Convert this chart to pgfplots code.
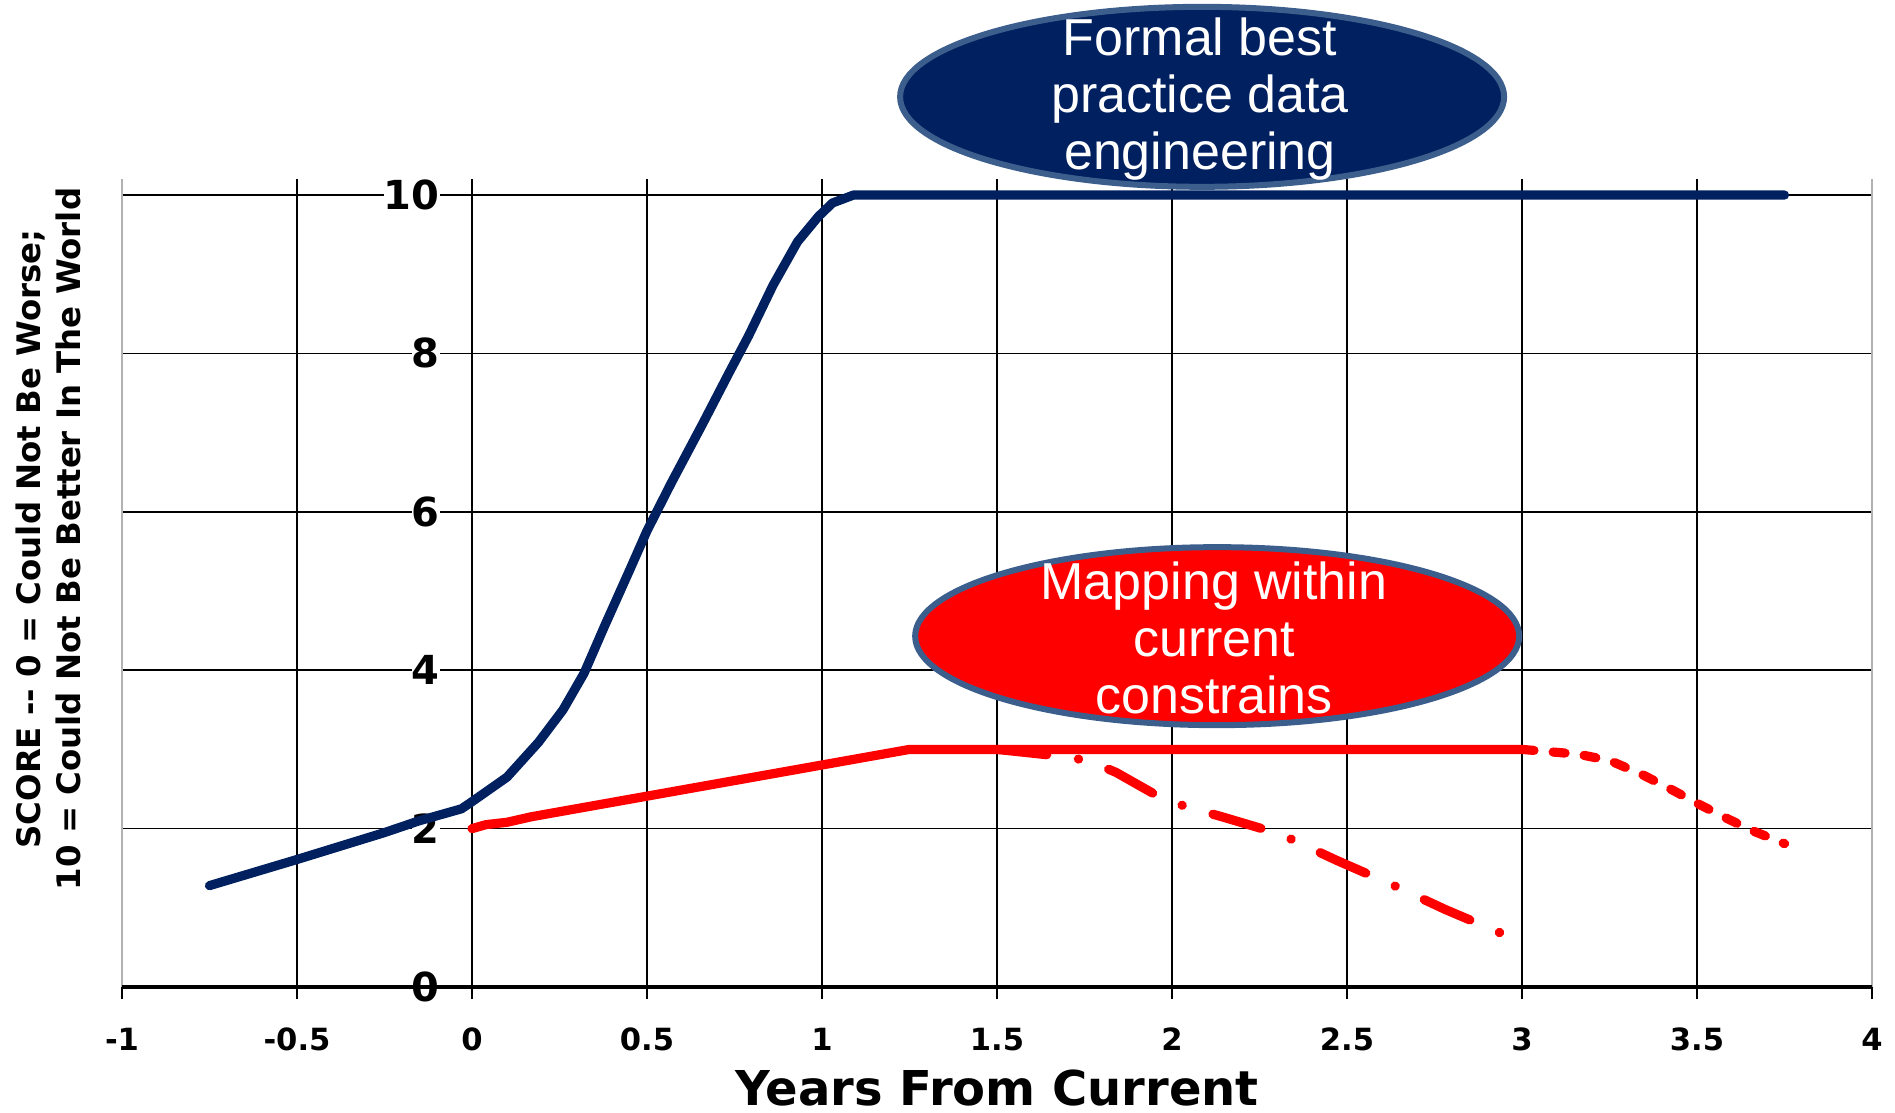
\documentclass[border=0pt]{standalone}
\usepackage{pgfplots}
\pgfplotsset{compat=1.18}
\usepackage{fontspec}
\setmainfont{DejaVu Sans}
\newfontfamily\arialfont{Liberation Sans}
\usetikzlibrary{shapes.geometric}
\definecolor{navy}{RGB}{0,32,96}
\definecolor{steel}{RGB}{60,94,140}
\definecolor{redline}{RGB}{255,0,0}
\begin{document}
\begin{tikzpicture}
\begin{axis}[
  scale only axis, width=875pt, height=403.9pt,
  xmin=-1, xmax=4, ymin=0, ymax=10.2,
  clip=false,
  axis line style={draw=none},
  xtick={-1,-0.5,0,0.5,1,1.5,2,2.5,3,3.5,4},
  xticklabels={-1,-0.5,0,0.5,1,1.5,2,2.5,3,3.5,4},
  ytick={2,4,6,8,10},
  yticklabels={2\hspace{11pt},4\hspace{11pt},6\hspace{11pt},8\hspace{11pt},10\hspace{11pt}},
  extra y ticks={0},
  extra y tick labels={0\hspace{11pt}},
  extra y tick style={y tick label style={fill=none}},
  xtick align=outside, ytick align=inside,
  xtick pos=bottom,
  major tick length=6pt,
  xtick style={black, line width=1pt},
  ytick style={draw=none},
  grid=major,
  major grid style={black, line width=0.8pt},
  x tick label style={font=\bfseries\fontsize{15.3}{18}\selectfont, yshift=-11pt},
  y tick label style={font=\bfseries\fontsize{20}{23}\selectfont, anchor=east, fill=white, inner sep=0pt, xshift=159pt},
  xlabel={Years From Current},
  xlabel style={font=\bfseries\fontsize{24}{28}\selectfont, at={(axis description cs:0.5,0)}, anchor=base, yshift=-59pt},
  ylabel={SCORE -{}- 0 = Could Not Be Worse;\\10 = Could Not Be Better In The World},
  ylabel style={align=center, font=\bfseries\fontsize{16.2}{20}\selectfont, at={(axis description cs:-0.0423,0.5546)}, anchor=center},
]
\draw[gray!60, line width=1.2pt] (axis cs:-1,0) -- (axis cs:-1,10.2);
\draw[gray!60, line width=1.2pt] (axis cs:4,0) -- (axis cs:4,10.2);
\draw[black, line width=2pt] (axis cs:-1,0) -- (axis cs:4,0);

\addplot[navy, line width=4.6pt, line cap=round, line join=round] coordinates {
(-0.75,1.28) (-0.5,1.61) (-0.25,1.95) (-0.15,2.10) (-0.03,2.25) (0,2.34)
(0.1,2.65) (0.19,3.09) (0.26,3.50) (0.32,3.96) (0.38,4.57) (0.45,5.26)
(0.50,5.76) (0.57,6.37) (0.66,7.12) (0.735,7.76) (0.79,8.22) (0.86,8.86)
(0.93,9.41) (0.99,9.73) (1.03,9.90) (1.09,10.0) (3.75,10.0)
};
\addplot[redline, line width=4.6pt, line cap=round, line join=round] coordinates {
(0,2.0) (0.04,2.05) (0.1,2.08) (0.17,2.15) (1.25,3.0) (3.0,3.0)
};
\addplot[redline, line width=4.6pt, line cap=round, line join=round,
  dash pattern=on 25pt off 16pt on 0.1pt off 16pt] coordinates {
(1.5,3.0) (1.67,2.92) (1.76,2.86) (1.84,2.71) (1.98,2.36) (2.07,2.24)
(2.15,2.14) (2.31,1.93) (2.47,1.60) (2.63,1.29) (2.78,0.98) (2.94,0.68)
};
\addplot[redline, line width=4.6pt, line cap=round, line join=round,
  dash pattern=on 6pt off 9.6pt] coordinates {
(3.0,3.0) (3.16,2.94) (3.25,2.86) (3.34,2.69) (3.42,2.51) (3.50,2.32)
(3.58,2.14) (3.66,1.97) (3.75,1.81)
};

\node[ellipse, draw=steel, line width=3pt, fill=navy, minimum width=302pt, minimum height=90pt, inner sep=0pt] at (axis cs:2.086,11.24) {};
\node[text=white, align=center, font=\arialfont\fontsize{26}{28.4}\selectfont, inner sep=0pt] at (axis cs:2.08,11.21) {Formal best\\practice data\\engineering};
\node[ellipse, draw=steel, line width=3pt, fill=redline, minimum width=302pt, minimum height=89pt, inner sep=0pt] at (axis cs:2.129,4.43) {};
\node[text=white, align=center, font=\arialfont\fontsize{26}{28.4}\selectfont, inner sep=0pt] at (axis cs:2.12,4.41) {Mapping within\\current\\constrains};
\end{axis}
\pgfresetboundingbox
\useasboundingbox (-61pt,-63pt) rectangle (886.5pt,493.5pt);
\end{tikzpicture}
\end{document}
